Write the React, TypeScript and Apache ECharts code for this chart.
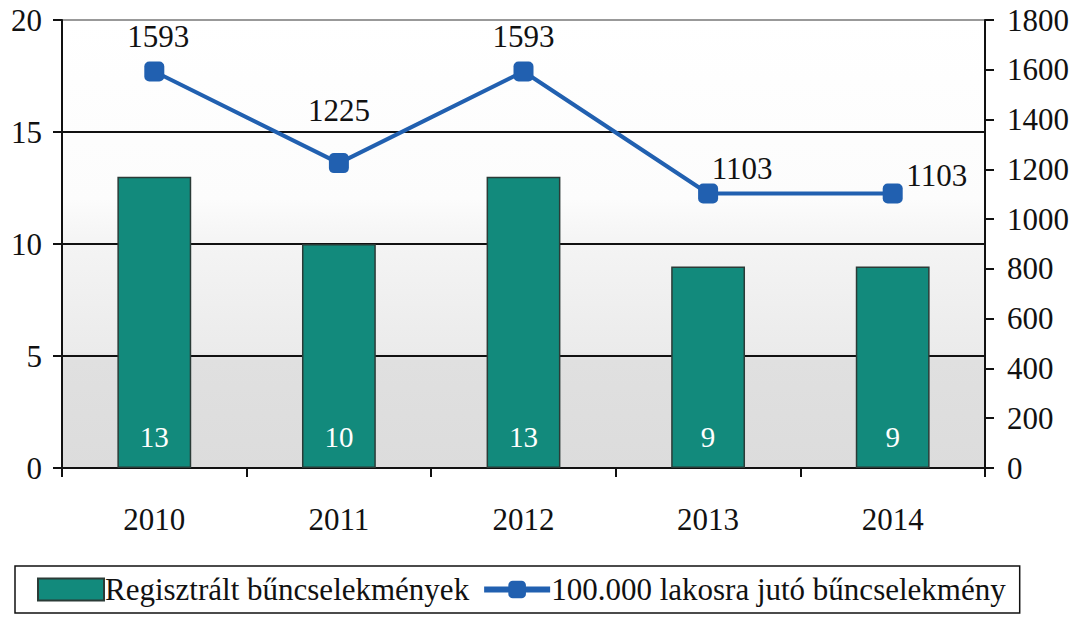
import React, { useEffect, useRef } from "react";
import * as echarts from "echarts";

const years = ["2010", "2011", "2012", "2013", "2014"];
const registered = [13, 10, 13, 9, 9];
const per100k = [1593, 1225, 1593, 1103, 1103];
const leftTicks = { min: 0, max: 20, interval: 5 };
const rightTicks = { min: 0, max: 1800, interval: 200 };
const lineLabelOffsets = [
  [4, -35],
  [0, -53],
  [0, -35],
  [34, -25],
  [44, -18],
];

const barName = "Regisztrált bűncselekmények";
const lineName = "100.000 lakosra jutó bűncselekmény";
const FONT = "'Liberation Serif', 'Times New Roman', serif";
const FS = 31;

export default function App() {
  const ref = useRef<HTMLDivElement>(null);
  useEffect(() => {
    if (!ref.current) return;
    const chart = echarts.init(ref.current, undefined, { renderer: "svg" });
    chart.setOption({
      animation: false,
      textStyle: { fontFamily: FONT },
      grid: {
        left: 62,
        right: 95,
        top: 20,
        bottom: 151,
        show: true,
        borderWidth: 0,
        backgroundColor: new echarts.graphic.LinearGradient(0, 0, 0, 1, [
          { offset: 0, color: "#ffffff" },
          { offset: 0.4, color: "#fcfcfc" },
          { offset: 0.5, color: "#f4f4f4" },
          { offset: 0.74, color: "#ebebeb" },
          { offset: 0.76, color: "#e0e0e0" },
          { offset: 1, color: "#dcdcdc" },
        ]),
      },
      legend: {
        left: 15,
        top: 566,
        itemWidth: 66,
        itemHeight: 22,
        itemGap: 12,
        padding: [8, 14, 8, 22],
        borderColor: "#111",
        borderWidth: 1.5,
        backgroundColor: "#fff",
        textStyle: { fontFamily: FONT, fontSize: FS, color: "#111", padding: [0, 0, 0, -4] },
        data: [
          { name: barName, icon: "rect" },
          { name: lineName, lineStyle: { width: 6 } },
        ],
      },
      xAxis: {
        type: "category",
        data: years,
        axisLine: { lineStyle: { color: "#111", width: 2 } },
        axisTick: { show: true, length: 9, lineStyle: { color: "#111", width: 2 } },
        axisLabel: { fontFamily: FONT, fontSize: FS, color: "#111", margin: 36 },
      },
      yAxis: [
        {
          type: "value",
          ...leftTicks,
          axisLine: { show: true, lineStyle: { color: "#111", width: 2 } },
          axisTick: { show: true, length: 9, lineStyle: { color: "#111", width: 2 } },
          axisLabel: { fontFamily: FONT, fontSize: FS, color: "#111", margin: 20 },
          splitLine: {
            show: true,
            lineStyle: { color: ["#111", "#111", "#111", "#111", "#999"], width: 2 },
          },
        },
        {
          type: "value",
          ...rightTicks,
          position: "right",
          axisLine: { show: true, lineStyle: { color: "#111", width: 2 } },
          axisTick: { show: true, length: 9, lineStyle: { color: "#111", width: 2 } },
          axisLabel: {
            fontFamily: FONT,
            fontSize: FS,
            color: "#111",
            margin: 22,
            formatter: (v: number) => String(v),
          },
          splitLine: { show: false },
        },
      ],
      series: [
        {
          name: barName,
          type: "bar",
          data: registered,
          barWidth: "40%",
          itemStyle: { color: "#128a7c", borderColor: "#2b3b37", borderWidth: 1.5 },
          label: {
            show: true,
            position: "insideBottom",
            distance: 17,
            color: "#fff",
            fontFamily: FONT,
            fontSize: 29,
          },
        },
        {
          name: lineName,
          type: "line",
          yAxisIndex: 1,
          data: per100k.map((v, i) => ({
            value: v,
            label: { offset: lineLabelOffsets[i] },
          })),
          symbol: "roundRect",
          symbolSize: 20,
          lineStyle: { color: "#2160b0", width: 4 },
          itemStyle: { color: "#2160b0" },
          label: {
            show: true,
            position: "inside",
            color: "#111",
            fontFamily: FONT,
            fontSize: FS,
          },
        },
      ],
    });
    return () => chart.dispose();
  }, []);
  return (
    <div
      ref={ref}
      style={{ position: "fixed", left: 0, top: 0, width: 1080, height: 619, background: "#fff" }}
    />
  );
}
